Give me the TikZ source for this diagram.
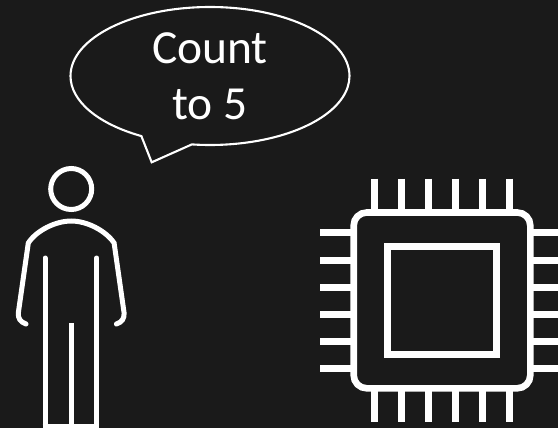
\documentclass[tikz,border=0pt]{standalone}
\usepackage{fontspec}
\setmainfont{Carlito}
\usetikzlibrary{shapes.callouts}
\definecolor{bgDark}{RGB}{26,26,26}
\tikzset{
    bubble/.style={ellipse callout, draw=white, line width=2.1pt, text=white, align=center,
                   inner sep=0pt, minimum width=279pt, minimum height=138pt,
                   font=\fontsize{47.5}{56}\selectfont},
    figure/.style={draw=white, line width=5pt},
    chip/.style={draw=white, line width=6.6pt},
    pin/.style={draw=white, line width=7pt}
}
\begin{document}
\begin{tikzpicture}[x=1pt,y=-1pt]
  \fill[bgDark] (0,0) rectangle (558,428);
  \useasboundingbox (0,0) rectangle (558,428);

  % speech bubble
  \node[bubble, callout absolute pointer={(151.7,162.3)}, callout pointer arc=22] (speech) at (210,76) {\raisebox{-1pt}{Count}\\ \raisebox{-1pt}{to 5}};

  % person
  \draw[figure] (71.2,189) circle (20.5);
  \draw[figure, line cap=round] (26,324) .. controls (20,322) and (18,318) .. (18.3,313)
    -- (28.3,243) .. controls (36,231) and (55,221) .. (71.2,221)
    .. controls (87.4,221) and (106,231) .. (114.1,243) -- (124.1,313)
    .. controls (124.4,318) and (122.4,322) .. (116.4,324);
  \draw[figure, line cap=round] (45,258) -- (45,425);
  \draw[figure, line cap=round] (96.7,258) -- (96.7,425);
  \draw[figure] (71,323) -- (71,425);
  \draw[figure, line width=3.6pt] (42.5,426.2) -- (99.2,426.2);

  % processor
  \foreach \px in {374,401,428,455.3,482.3,509.7} {
    \draw[pin] (\px,178.7) -- (\px,212.5);
    \draw[pin] (\px,388.3) -- (\px,421.7);
  }
  \foreach \py in {232.7,260,287,314,341,368} {
    \draw[pin] (320,\py) -- (353.7,\py);
    \draw[pin] (530.3,\py) -- (558,\py);
  }
  \draw[chip, fill=bgDark, rounded corners=13pt] (353.7,212.5) rectangle (530.3,388.3);
  \draw[chip] (387.7,246.7) rectangle (496.5,354.7);
\end{tikzpicture}
\end{document}
